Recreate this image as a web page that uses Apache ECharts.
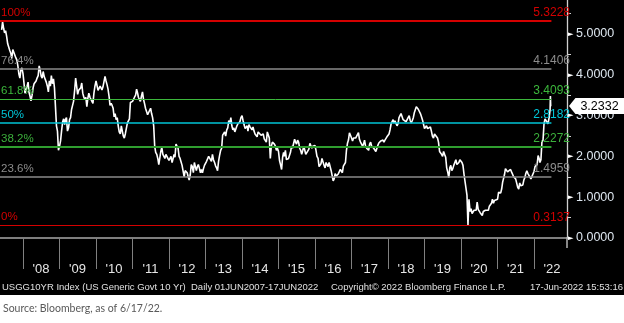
<!DOCTYPE html>
<html><head><meta charset="utf-8">
<script src="https://cdn.jsdelivr.net/npm/echarts@6/dist/echarts.min.js"></script>
<style>html,body{margin:0;padding:0;background:#fff}#c{width:624px;height:323px}</style>
</head><body><div id="c"></div>
<script>
// US 10Y yield, 3 readings per month (1st, 11th, 21st), Jun 2007 .. Jun 2022
const yields = [
// 2007 Jun-Dec
5.10,5.30,5.14, 5.03,5.08,4.95, 4.76,4.78,4.60, 4.53,4.40,4.62, 4.58,4.65,4.42, 4.36,4.22,4.02, 3.92,4.12,4.17,
// 2008
4.03,3.80,3.55, 3.59,3.72,3.82, 3.58,3.48,3.36, 3.50,3.68,3.78, 3.77,3.85,3.92, 3.98,4.22,4.12,
3.97,3.92,4.08, 3.95,3.92,3.82, 3.72,3.58,3.85, 3.72,3.98,3.78, 3.90,3.68,3.22, 2.75,2.62,2.15,
// 2009
2.25,2.38,2.62, 2.85,2.92,2.78, 2.90,2.95,2.62, 2.70,2.90,2.95, 3.15,3.15,3.35, 3.62,3.92,3.72,
3.52,3.62,3.62, 3.68,3.80,3.55, 3.45,3.40,3.45, 3.22,3.42,3.55, 3.45,3.45,3.35, 3.30,3.55,3.72,
// 2010
3.85,3.82,3.62, 3.62,3.72,3.75, 3.63,3.70,3.68, 3.96,3.85,3.76, 3.65,3.48,3.25, 3.30,3.25,3.18,
2.97,3.05,2.90, 2.95,2.75,2.60, 2.55,2.75,2.62, 2.50,2.45,2.55, 2.55,2.82,2.85, 2.92,3.32,3.35,
// 2011
3.35,3.35,3.45, 3.50,3.65,3.55, 3.45,3.40,3.35, 3.48,3.58,3.40, 3.30,3.18,3.15, 3.02,2.98,2.98,
3.18,3.05,2.95, 2.75,2.25,2.10, 2.05,1.95,1.80, 1.80,2.12,2.22, 2.05,2.05,1.95, 2.05,2.00,1.95,
// 2012
1.90,1.95,2.00, 1.85,1.95,2.05, 1.98,2.30,2.25, 2.20,2.00,1.95, 1.93,1.78,1.75, 1.50,1.65,1.65,
1.60,1.50,1.42, 1.55,1.80,1.75, 1.60,1.85,1.75, 1.65,1.75,1.80, 1.70,1.60,1.68, 1.60,1.70,1.78,
// 2013
1.82,1.88,1.85, 2.00,2.00,1.98, 1.88,2.05,1.92, 1.85,1.77,1.72, 1.65,1.88,2.02, 2.15,2.20,2.52,
2.50,2.60,2.50, 2.65,2.70,2.88, 2.80,2.95,2.75, 2.65,2.70,2.60, 2.57,2.75,2.80, 2.78,2.85,2.95,
// 2014
3.00,2.88,2.78, 2.68,2.72,2.75, 2.62,2.78,2.73, 2.75,2.65,2.72, 2.62,2.55,2.53, 2.48,2.60,2.62,
2.58,2.52,2.48, 2.55,2.43,2.42, 2.35,2.60,2.57, 2.45,1.95,2.25, 2.35,2.38,2.30, 2.25,2.15,2.20,
// 2015
2.12,1.90,1.80, 1.68,1.98,2.10, 2.00,2.15,1.92, 1.88,1.95,1.92, 2.10,2.25,2.20, 2.20,2.42,2.35,
2.30,2.40,2.35, 2.20,2.15,2.05, 2.15,2.25,2.15, 2.05,2.05,2.05, 2.18,2.32,2.28, 2.20,2.25,2.22,
// 2016
2.27,2.15,2.00, 1.95,1.75,1.75, 1.82,1.95,1.92, 1.78,1.72,1.85, 1.82,1.75,1.85, 1.85,1.65,1.62,
1.40,1.45,1.58, 1.52,1.55,1.57, 1.58,1.68,1.65, 1.60,1.76,1.75, 1.85,2.15,2.32, 2.40,2.58,2.55,
// 2017
2.45,2.38,2.45, 2.48,2.45,2.42, 2.45,2.58,2.42, 2.35,2.30,2.25, 2.30,2.40,2.25, 2.20,2.20,2.15,
2.30,2.35,2.25, 2.27,2.20,2.20, 2.12,2.15,2.27, 2.33,2.35,2.38, 2.38,2.40,2.35, 2.40,2.38,2.48,
// 2018
2.45,2.55,2.65, 2.80,2.85,2.90, 2.82,2.87,2.88, 2.75,2.80,2.95, 2.95,3.05,3.05, 2.90,2.94,2.88,
2.85,2.85,2.95, 3.00,2.88,2.82, 2.88,2.95,3.07, 3.10,3.22,3.18, 3.15,3.12,3.05, 2.98,2.90,2.80,
// 2019
2.68,2.70,2.75, 2.68,2.70,2.65, 2.72,2.62,2.50, 2.45,2.55,2.58, 2.52,2.45,2.35, 2.12,2.12,2.05,
2.00,2.12,2.05, 1.98,1.72,1.62, 1.48,1.72,1.78, 1.65,1.70,1.78, 1.75,1.92,1.80, 1.82,1.85,1.92,
// 2020
1.90,1.85,1.78, 1.55,1.58,1.55, 1.05,0.32,0.95, 0.65,0.72,0.60, 0.62,0.68,0.66, 0.68,0.88,0.70,
0.68,0.62,0.58, 0.55,0.65,0.68, 0.68,0.68,0.68, 0.68,0.78,0.82, 0.85,0.95,0.85, 0.92,0.90,0.93,
// 2021
0.95,1.12,1.08, 1.10,1.20,1.37, 1.45,1.55,1.70, 1.70,1.62,1.58, 1.62,1.68,1.62, 1.60,1.50,1.48,
1.45,1.35,1.25, 1.20,1.35,1.28, 1.32,1.30,1.42, 1.48,1.58,1.65, 1.58,1.55,1.62, 1.45,1.45,1.48,
// 2022 Jan-Jun 17
1.63,1.75,1.78, 1.80,2.02,1.95, 1.85,1.92,2.35, 2.40,2.80,2.92, 2.95,2.95,2.80, 2.95,3.15,3.48,3.23
];
const fibPct = ['100%','76.4%','61.8%','50%','38.2%','23.6%','0%'];
const fibVal = [5.3228,4.1406,3.4093,2.8182,2.2272,1.4959,0.3137];
const lastValue = 3.2332;
const xStart = '2007-05-16', xEnd = '2022-11-27', lineEnd = '2022-06-24';

// styles
const fibColor = ['#d40000','#8a8a8a','#3cb83c','#00c4d6','#2f9e2f','#8a8a8a','#d40000'];
const fibLabelColor = ['#d40000','#8c8c8c','#3cb83c','#00c4d6','#3cb03c','#8c8c8c','#d40000'];
const fibWidth = [2,1.5,1,1.5,2,1.5,1.2];

const pad = n => (n < 10 ? '0' : '') + n;
const dates = [];
for (let y = 2007; y <= 2022; y++) {
  for (let m = 1; m <= 12; m++) {
    if (y === 2007 && m < 6) continue;
    if (y === 2022 && m > 5) continue;
    for (const d of [1, 11, 21]) dates.push(y + '-' + pad(m) + '-' + pad(d));
  }
}
dates.push('2022-06-01', '2022-06-11', '2022-06-14', '2022-06-17');
const seriesData = dates.map((d, i) => [d, yields[i]]);

const FONT = 'Liberation Sans';
const markLineData = [];
fibVal.forEach((v, i) => {
  markLineData.push([
    { coord: [xStart, v], lineStyle: { color: fibColor[i], width: fibWidth[i], type: 'solid' },
      label: { show: true, position: 'insideStartTop', formatter: fibPct[i], color: fibLabelColor[i],
               fontSize: 11.5, fontFamily: FONT, distance: [1, 2] } },
    { coord: [lineEnd, v] }
  ]);
  markLineData.push([
    { coord: [xStart, v], lineStyle: { color: 'rgba(0,0,0,0)', width: 0 },
      label: { show: true, position: 'insideEndTop', formatter: v.toFixed(4), color: fibLabelColor[i],
               fontSize: 12, fontFamily: FONT, distance: [-3, 2] } },
    { coord: [xEnd, v] }
  ]);
});

const chart = echarts.init(document.getElementById('c'), null, { renderer: 'canvas' });
const YEAR = 365.25 * 24 * 3600 * 1000;
chart.setOption({
  animation: false,
  backgroundColor: '#ffffff',
  grid: { left: 0, right: 57, top: -6.8, bottom: 85, containLabel: false, outerBoundsMode: 'none' },
  xAxis: {
    type: 'time', min: xStart, max: xEnd, offset: 9,
    minInterval: YEAR * 0.99, maxInterval: YEAR * 1.01,
    axisLine: { show: true, lineStyle: { color: '#a8a8a8', width: 1.5 } },
    axisTick: { show: true, length: 31, lineStyle: { color: '#808080', width: 1 } },
    splitLine: { show: false },
    axisLabel: {
      show: true, color: '#e6e6e6', fontSize: 13, fontFamily: FONT, margin: 16,
      padding: [0, 0, 0, 36], showMinLabel: false, showMaxLabel: false,
      formatter: v => "'" + String(new Date(v).getFullYear()).slice(2)
    }
  },
  yAxis: {
    type: 'value', position: 'right', min: 0, max: 6, interval: 1,
    axisLine: { show: true, lineStyle: { color: '#d0d0d0', width: 1.3 } },
    axisTick: { show: false },
    minorTick: { show: true, splitNumber: 2, length: 4, lineStyle: { color: '#d0d0d0' } },
    splitLine: { show: false },
    axisLabel: {
      show: true, margin: 1, align: 'left',
      formatter: v => v > 5.5 ? '' : '{t|\u25BA}{v|' + v.toFixed(4) + '}',
      rich: {
        t: { fontSize: 7, color: '#ffffff', fontFamily: 'DejaVu Sans', width: 8 },
        v: { fontSize: 12.5, color: '#dde6ef', fontFamily: FONT }
      }
    }
  },
  series: [{
    type: 'line', data: seriesData, showSymbol: false, symbol: 'none',
    lineStyle: { color: '#ffffff', width: 1.6 },
    markLine: { silent: true, symbol: 'none', animation: false, data: markLineData },
    markPoint: {
      silent: true, animation: false,
      data: [{
        coord: [xEnd, lastValue],
        symbol: 'path://M0,8L7,0L60,0L60,16L7,16Z', symbolSize: [55, 16], symbolKeepAspect: false,
        symbolOffset: [29.5, 0],
        itemStyle: { color: '#ffffff' },
        label: { show: true, position: 'inside', formatter: lastValue.toFixed(4), color: '#000',
                 fontSize: 12.5, fontFamily: FONT, offset: [3, 0] }
      }]
    }
  }],
  graphic: [
    { type: 'rect', z: -100, silent: true, shape: { x: 0, y: 0, width: 624, height: 295 }, style: { fill: '#000' } },
    { type: 'line', silent: true, shape: { x1: 567, y1: 237, x2: 567, y2: 248 }, style: { stroke: '#d0d0d0', lineWidth: 1.3 } },
    { type: 'text', silent: true, left: 2, top: 282, style: { text: 'USGG10YR Index (US Generic Govt 10 Yr)  Daily 01JUN2007-17JUN2022', fill: '#e0e0e0', fontSize: 9.5, fontFamily: FONT } },
    { type: 'text', silent: true, left: 331, top: 282, style: { text: 'Copyright\u00A9 2022 Bloomberg Finance L.P.', fill: '#e0e0e0', fontSize: 9.5, fontFamily: FONT } },
    { type: 'text', silent: true, left: 530, top: 282, style: { text: '17-Jun-2022 15:53:16', fill: '#e0e0e0', fontSize: 9.5, fontFamily: FONT } },
    { type: 'text', silent: true, left: 3, top: 303, style: { text: 'Source: Bloomberg, as of 6/17/22.', fill: '#595959', fontSize: 10.5, fontFamily: 'Lato' } }
  ]
});
</script></body></html>
